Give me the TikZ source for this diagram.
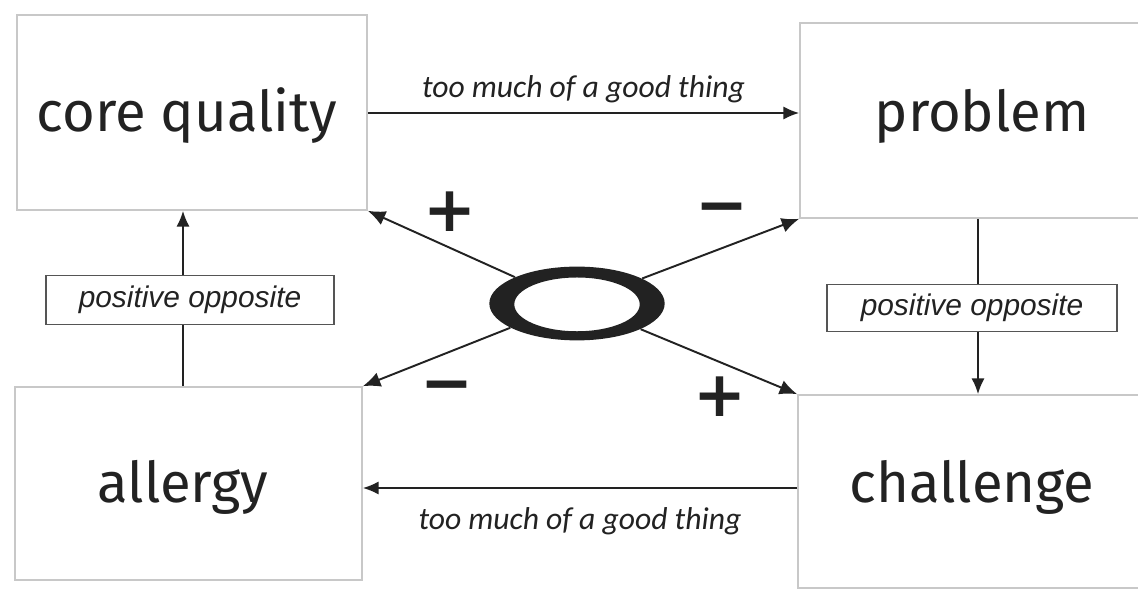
\documentclass[tikz,border=0pt]{standalone}
\usepackage{fontspec}
\setmainfont{Fira Sans}
\newfontfamily\labelfont{Carlito}
\newfontfamily\oppfont{Liberation Sans}
\newfontfamily\signfont{DejaVu Sans}
\usetikzlibrary{arrows.meta,fit,shapes.geometric}
\definecolor{ink}{HTML}{222222}
\definecolor{boxline}{HTML}{C8C8C8}
\definecolor{lblline}{HTML}{555555}
\tikzset{
  bigbox/.style={draw=boxline, line width=0.9pt, inner sep=0pt},
  bigtext/.style={text=ink, inner sep=0pt, anchor=base,
    font=\fontsize{32}{36}\selectfont},
  arr/.style={draw=ink, line width=1.1pt, -{Latex[length=9pt,width=7.5pt]}},
  diag/.style={draw=ink, line width=1.1pt, -{Latex[length=10pt,width=8.5pt]}},
  lblbox/.style={draw=lblline, line width=0.8pt, fill=white, text=ink,
    minimum width=164pt, minimum height=28pt, inner sep=0pt,
    font=\oppfont\itshape\fontsize{17}{20}\selectfont},
  arrlbl/.style={text=ink, font=\labelfont\itshape\fontsize{18}{21}\selectfont},
  sign/.style={text=ink, inner sep=0pt, font=\signfont\bfseries\fontsize{36}{36}\selectfont}
}
\begin{document}
\begin{tikzpicture}[x=0.02cm,y=-0.02cm]
\useasboundingbox (0,0) rectangle (1138,590);
\fill[white] (0,0) rectangle (1138,590);
% boxes
\node[bigbox, fit={(17,15) (367,210)}] (cq) {};
\node[bigbox, fit={(800,23) (1164,218)}] (pr) {};
\node[bigbox, fit={(15,387) (362,580)}] (al) {};
\node[bigbox, fit={(798,395) (1146,588)}] (ch) {};
\node[bigtext] (cqt) at (187,132) {core quality};
\node[bigtext] (prt) at (982,132) {problem};
\node[bigtext] (alt) at (183,502) {allergy};
\node[bigtext] (cht) at (972,502) {challenge};
% horizontal arrows
\coordinate (ty) at (0,113);
\draw[arr] (cq.east |- ty) -- node[arrlbl, above=2pt] (t1) {too much of a good thing} (pr.west |- ty);
\coordinate (by) at (0,488);
\draw[arr] (ch.west |- by) -- node[arrlbl, below=7pt] (t2) {too much of a good thing} (al.east |- by);
% vertical arrows
\coordinate (lx) at (183,0);
\coordinate (rx) at (978,0);
\draw[arr] (al.north -| lx) -- (cq.south -| lx);
\draw[arr] (pr.south -| rx) -- (ch.north -| rx);
\node[lblbox] (po1) at (190,300) {positive opposite};
\node[lblbox, minimum width=165pt, minimum height=27pt] (po2) at (972,308) {positive opposite};
% central ring
\node[ellipse, minimum width=99.8pt, minimum height=42pt, inner sep=0pt] (ring) at (577,303.5) {};
\fill[ink, even odd rule] (ring.center) ellipse [x radius=49.9pt, y radius=21pt]
  ([yshift=-0.5pt]ring.center) ellipse [x radius=35.7pt, y radius=15.3pt];
% diagonal arrows
\draw[diag] (ring.157) -- (cq.south east);
\draw[diag] (ring.21) -- (pr.south west);
\draw[diag] (ring.200) -- (al.north east);
\draw[diag] (ring.-22) -- (ch.north west);
% signs
\node[sign] (s1) at (450,212) {+};
\node[sign] (s2) at (722,215) {−};
\node[sign] (s3) at (447,393) {−};
\node[sign] (s4) at (720,397) {+};
\end{tikzpicture}
\end{document}
